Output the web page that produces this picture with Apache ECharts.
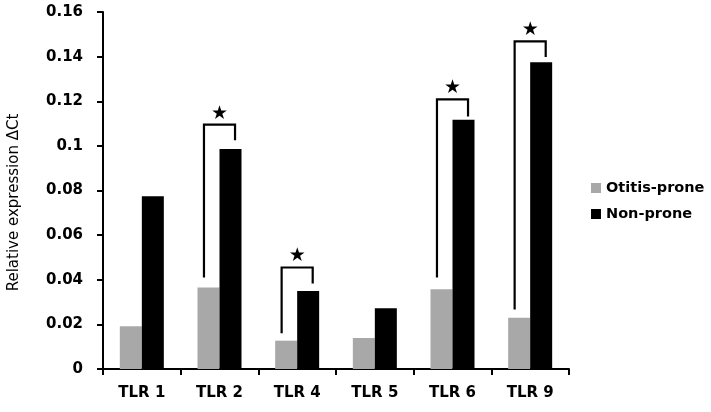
<!DOCTYPE html>
<html>
<head>
<meta charset="utf-8">
<script src="https://cdn.jsdelivr.net/npm/echarts@6/dist/echarts.min.js"></script>
<style>
html,body{margin:0;padding:0;background:#fff;}
#chart{width:711px;height:412px;}
</style>
</head>
<body>
<div id="chart"></div>
<script>
const categories = ['TLR 1', 'TLR 2', 'TLR 4', 'TLR 5', 'TLR 6', 'TLR 9'];
const otitisProne = [0.0192, 0.0365, 0.0127, 0.0139, 0.0357, 0.0230];
const nonProne = [0.0774, 0.0986, 0.0350, 0.0272, 0.1117, 0.1375];
const yTicks = { min: 0, max: 0.16, interval: 0.02 };
// significance brackets: [category index, left leg bottom, bracket top, right leg bottom]
const brackets = [
  [1, 0.0410, 0.1095, 0.1025],
  [2, 0.0160, 0.0455, 0.0383],
  [4, 0.0410, 0.1208, 0.1132],
  [5, 0.0267, 0.1468, 0.1398]
];
const sigMark = '★';

const chart = echarts.init(document.getElementById('chart'));
const FONT = 'DejaVu Sans';

chart.setOption({
  animation: false,
  backgroundColor: '#fff',
  grid: { left: 103, right: 142, top: 12, bottom: 43, containLabel: false, outerBoundsMode: 'none' },
  legend: {
    orient: 'vertical',
    left: 591,
    top: 180,
    padding: 0,
    itemWidth: 10,
    itemHeight: 10,
    itemGap: 10,
    icon: 'rect',
    textStyle: { fontFamily: FONT, fontSize: 14.5, fontWeight: 'bold', color: '#000', lineHeight: 16 },
    data: ['Otitis-prone', 'Non-prone']
  },
  xAxis: {
    type: 'category',
    data: categories,
    axisLine: { lineStyle: { color: '#000', width: 2 } },
    axisTick: { show: true, length: 6, lineStyle: { color: '#000', width: 2 } },
    axisLabel: { color: '#000', fontFamily: FONT, fontWeight: 'bold', fontSize: 15, margin: 17 }
  },
  yAxis: {
    type: 'value',
    min: yTicks.min,
    max: yTicks.max,
    interval: yTicks.interval,
    name: 'Relative expression ΔCt',
    nameLocation: 'middle',
    nameGap: 81,
    nameRotate: 90,
    nameTextStyle: { fontFamily: FONT, fontSize: 15, color: '#000', padding: [0, 24, 0, 0] },
    splitLine: { show: false },
    axisLine: { show: true, lineStyle: { color: '#000', width: 2 } },
    axisTick: { show: true, length: 6, lineStyle: { color: '#000', width: 2 } },
    axisLabel: { color: '#000', fontFamily: FONT, fontWeight: 'bold', fontSize: 15, margin: 20 }
  },
  series: [
    {
      name: 'Otitis-prone',
      type: 'bar',
      data: otitisProne,
      barWidth: 22,
      barGap: '0%',
      itemStyle: { color: '#a8a8a8' }
    },
    {
      name: 'Non-prone',
      type: 'bar',
      data: nonProne,
      barWidth: 22,
      barGap: '0%',
      itemStyle: { color: '#000' }
    },
    {
      type: 'custom',
      silent: true,
      data: brackets,
      encode: { x: 0, y: 2 },
      renderItem: function (params, api) {
        const idx = api.value(0);
        const band = api.size([1, 0])[0];
        const c = api.coord([idx, api.value(2)]);
        const lb = api.coord([idx, api.value(1)]);
        const rb = api.coord([idx, api.value(3)]);
        const xl = c[0] - band * 0.2;
        const xr = c[0] + band * 0.2;
        return {
          type: 'group',
          children: [
            {
              type: 'polyline',
              shape: { points: [[xl, lb[1]], [xl, c[1]], [xr, c[1]], [xr, rb[1]]] },
              style: { stroke: '#000', lineWidth: 2.2, fill: null }
            },
            {
              type: 'text',
              x: c[0],
              y: c[1] - 11,
              style: {
                text: sigMark,
                font: '19px "DejaVu Sans"',
                fill: '#000',
                align: 'center',
                verticalAlign: 'middle'
              }
            }
          ]
        };
      }
    }
  ]
});
</script>
</body>
</html>
